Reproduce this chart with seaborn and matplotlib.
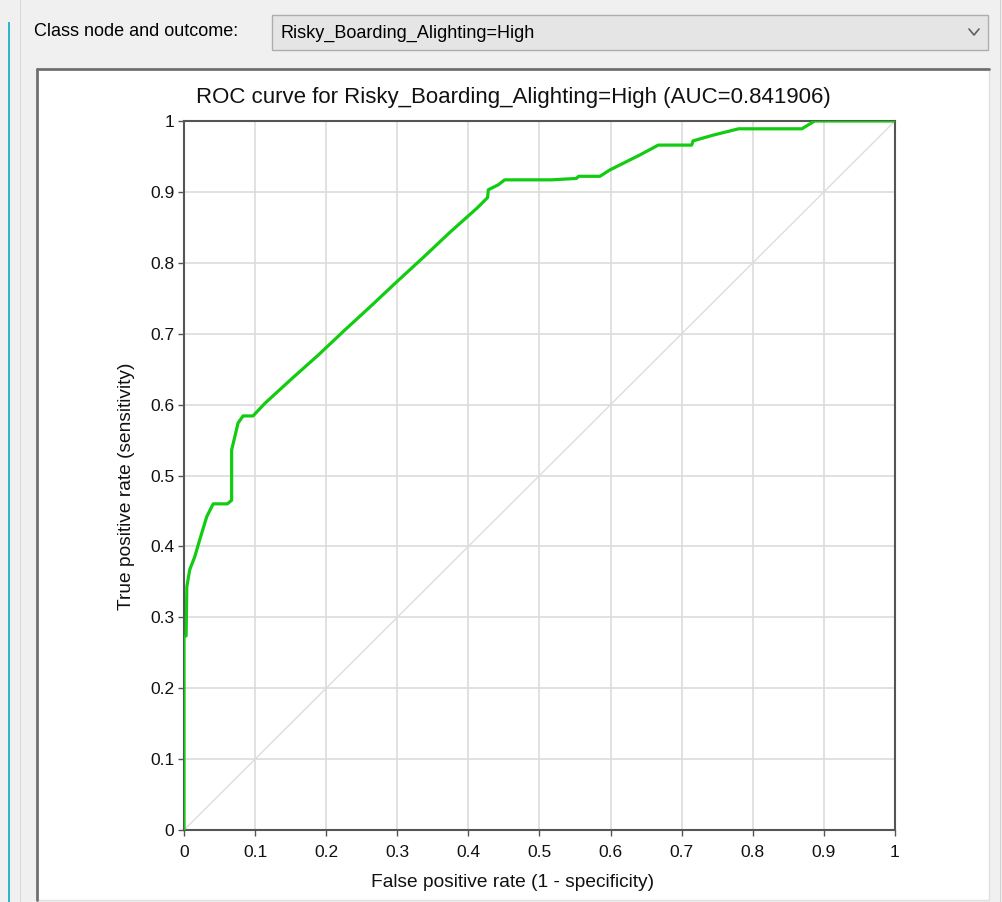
import matplotlib
matplotlib.use("Agg")
import matplotlib.pyplot as plt
from matplotlib.patches import Rectangle
from matplotlib.lines import Line2D
import seaborn as sns
import pandas as pd

# ---- data ----
fpr = [0.0, 0.0, 0.003, 0.004, 0.008, 0.015, 0.022, 0.032, 0.041, 0.061, 0.067,
       0.067, 0.072, 0.076, 0.083, 0.097, 0.114, 0.151, 0.189, 0.226, 0.264,
       0.299, 0.337, 0.374, 0.412, 0.427, 0.428, 0.442, 0.451, 0.517, 0.552,
       0.555, 0.585, 0.599, 0.613, 0.641, 0.667, 0.714, 0.716, 0.744, 0.780,
       0.869, 0.887, 1.0]
tpr = [0.0, 0.272, 0.274, 0.343, 0.367, 0.385, 0.409, 0.442, 0.460, 0.460, 0.465,
       0.536, 0.557, 0.574, 0.584, 0.584, 0.602, 0.636, 0.670, 0.705, 0.740,
       0.773, 0.808, 0.843, 0.877, 0.892, 0.903, 0.910, 0.917, 0.917, 0.919,
       0.922, 0.922, 0.931, 0.938, 0.952, 0.966, 0.966, 0.972, 0.980, 0.989,
       0.989, 1.0, 1.0]
diag_x = [0.0, 1.0]
diag_y = [0.0, 1.0]
tick_values = [0.0, 0.1, 0.2, 0.3, 0.4, 0.5, 0.6, 0.7, 0.8, 0.9, 1.0]
tick_labels = ["0", "0.1", "0.2", "0.3", "0.4", "0.5", "0.6", "0.7", "0.8", "0.9", "1"]
class_label = "Class node and outcome:"
outcome = "Risky_Boarding_Alighting=High"
auc = "0.841906"

sns.set_theme(style="white")
plt.rcParams["font.family"] = ["Liberation Sans", "DejaVu Sans"]

W, H = 1003, 902
fig = plt.figure(figsize=(W / 100, H / 100), dpi=100)
fig.patch.set_facecolor("#f0f0f0")

def fx(px):
    return px / W

def fy(py):
    return 1 - py / H

# window decorations (drawn beneath the axes)
fig.patches.append(Rectangle((fx(8), 0), fx(2), fy(22), transform=fig.transFigure,
                             facecolor="#2fb5c8", edgecolor="none", zorder=-2))
fig.patches.append(Rectangle((fx(20), 0), fx(1), 1, transform=fig.transFigure,
                             facecolor="#d8d8d8", edgecolor="none", zorder=-2))
fig.patches.append(Rectangle((fx(1000), 0), fx(1), 1, transform=fig.transFigure,
                             facecolor="#d0d0d0", edgecolor="none", zorder=-2))
# dropdown
fig.patches.append(Rectangle((fx(272), fy(50)), fx(988 - 272), (50 - 15) / H,
                             transform=fig.transFigure, facecolor="#e5e5e5",
                             edgecolor="#adadad", linewidth=1, zorder=-2))
fig.text(fx(34), fy(32), class_label, fontsize=13, color="#000000", va="center", ha="left")
fig.text(fx(281), fy(33), outcome, fontsize=13, color="#000000", va="center", ha="left")
fig.lines.append(Line2D([fx(969), fx(974), fx(979)], [fy(29), fy(35), fy(29)],
                        transform=fig.transFigure, color="#606060", linewidth=1.2,
                        zorder=-1))
# chart panel
fig.patches.append(Rectangle((fx(37), fy(900)), fx(989 - 37), (900 - 69) / H,
                             transform=fig.transFigure, facecolor="white",
                             edgecolor="#e0e0e0", linewidth=1, zorder=-2))
fig.lines.append(Line2D([fx(37), fx(37)], [fy(900), fy(69)], transform=fig.transFigure,
                        color="#707070", linewidth=2, zorder=-1))
fig.lines.append(Line2D([fx(37), fx(989)], [fy(69), fy(69)], transform=fig.transFigure,
                        color="#707070", linewidth=2, zorder=-1))

ax = fig.add_axes([fx(184), fy(830), fx(895 - 184), (830 - 121) / H])
ax.set_zorder(1)
ax.set_facecolor("white")

sns.lineplot(x=diag_x, y=diag_y, ax=ax, color="#dddddd", linewidth=1,
             estimator=None, sort=False, zorder=1)
sns.lineplot(x=fpr, y=tpr, ax=ax, color="#12cc12", linewidth=2.3,
             estimator=None, sort=False, zorder=3)

ax.set_xlim(0, 1)
ax.set_ylim(0, 1)
ax.set_xticks(tick_values)
ax.set_xticklabels(tick_labels)
ax.set_yticks(tick_values)
ax.set_yticklabels(tick_labels)
ax.grid(True, color="#dcdcdc", linewidth=1.2)
ax.set_axisbelow(True)
for s in ax.spines.values():
    s.set_color("#555555")
    s.set_linewidth(1.5)
ax.tick_params(axis="both", which="both", direction="out", length=4, width=1,
               color="#555555", labelsize=12.5, labelcolor="#111111",
               left=True, bottom=True)
ax.tick_params(axis="x", pad=7)
ax.tick_params(axis="y", pad=3)

# title centred on the chart panel
fig.text(fx(513), fy(98), f"ROC curve for {outcome} (AUC={auc})", fontsize=16,
         color="#111111", ha="center", va="center")
ax.set_xlabel("False positive rate (1 - specificity)", fontsize=13.8, color="#111111", labelpad=10)
ax.set_ylabel("True positive rate (sensitivity)", fontsize=13.8, color="#111111", labelpad=11)
ax.xaxis.label.set_x((513 - 184) / (895 - 184))
ax.yaxis.label.set_y((830 - 486.5) / (830 - 121))

fig.savefig("out.png", dpi=100, facecolor=fig.get_facecolor())
